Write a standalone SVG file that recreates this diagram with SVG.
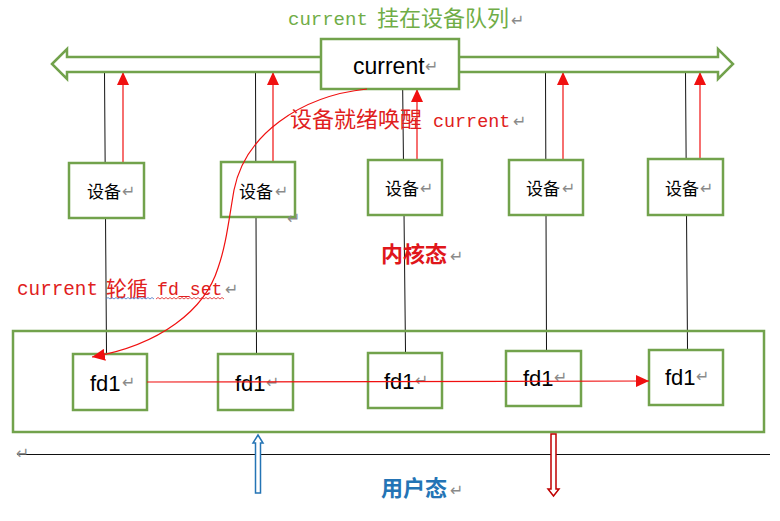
<svg xmlns="http://www.w3.org/2000/svg" width="780" height="521" viewBox="0 0 780 521">
<defs>
<style>
.box{fill:#fff;stroke:#72A24C;stroke-width:2.5}
.bl{stroke:#111;stroke-width:1;fill:none}
.rd{stroke:#F01010;stroke-width:1.2;fill:none}
.cjk{font-family:"Noto Sans CJK SC",sans-serif}
.mono{font-family:"Liberation Mono","Noto Sans CJK SC",monospace}
.sans{font-family:"Liberation Sans","Noto Sans CJK SC",sans-serif}
.pm{font-family:"DejaVu Sans",sans-serif;font-size:16px;fill:#8a8a8a}
</style>
<marker id="ah" viewBox="0 0 13 12" refX="13" refY="6" markerWidth="13" markerHeight="12" markerUnits="userSpaceOnUse" orient="auto"><path d="M0,0 L13,6 L0,12 z" fill="#F01010"/></marker>
</defs>
<rect width="780" height="521" fill="#fff"/>

<g id="connectors">
<path class="bl" d="M104.5 72 L106.5 354"/>
<path class="bl" d="M255.5 72 L256.5 354"/>
<path class="bl" d="M402.5 72 L405.5 352"/>
<path class="bl" d="M545.5 72 L546.5 351"/>
<path class="bl" d="M685.5 72 L687.5 350"/>
<path class="rd" d="M123 163 L123 72" marker-end="url(#ah)"/>
<path class="rd" d="M273 162 L273 72" marker-end="url(#ah)"/>
<path class="rd" d="M417 159 L417 89" marker-end="url(#ah)"/>
<path class="rd" d="M563 160 L563 72" marker-end="url(#ah)"/>
<path class="rd" d="M700 159 L700 72" marker-end="url(#ah)"/>
<path class="bl" d="M17 454.5 L770 454.5"/>
</g>

<g id="queue">
<polygon points="52,64 67,49 67,57 718,57 718,49 733,64 718,79 718,72 67,72 67,79" fill="#fff" stroke="#72A24C" stroke-width="2.5" stroke-linejoin="miter"/>
</g>

<g id="current">
<rect class="box" x="321" y="39" width="138" height="50"/>
<text class="sans" x="353" y="74" font-size="23" fill="#000">current</text>
<text class="pm" x="425" y="72">↵</text>
</g>

<g id="kernel-box">
<rect x="13" y="331" width="751" height="101" fill="none" stroke="#72A24C" stroke-width="2.5"/>
</g>

<g id="dev1"><rect class="box" x="69" y="163" width="75" height="55"/><text class="cjk" x="87" y="198" font-size="17">设备</text><text class="pm" x="122" y="197">↵</text></g>
<g id="dev2"><rect class="box" x="221" y="162" width="74" height="55"/><text class="cjk" x="239" y="198" font-size="17">设备</text><text class="pm" x="275" y="197">↵</text><text class="pm" x="287" y="224">↵</text></g>
<g id="dev3"><rect class="box" x="368" y="160" width="74" height="55"/><text class="cjk" x="385" y="195" font-size="17">设备</text><text class="pm" x="420" y="194">↵</text></g>
<g id="dev4"><rect class="box" x="509" y="160" width="74" height="55"/><text class="cjk" x="526" y="195" font-size="17">设备</text><text class="pm" x="562" y="194">↵</text></g>
<g id="dev5"><rect class="box" x="648" y="159" width="75" height="56"/><text class="cjk" x="665" y="195" font-size="17">设备</text><text class="pm" x="700" y="194">↵</text></g>

<g id="fd1a"><rect class="box" x="73" y="354" width="74" height="56"/><text class="sans" x="90" y="391" font-size="22">fd1</text><text class="pm" x="122" y="388">↵</text></g>
<g id="fd1b"><rect class="box" x="218" y="354" width="75" height="56"/><text class="sans" x="235" y="391" font-size="22">fd1</text><text class="pm" x="266" y="388">↵</text></g>
<g id="fd1c"><rect class="box" x="368" y="353" width="74" height="55"/><text class="sans" x="384" y="389" font-size="22">fd1</text><text class="pm" x="415" y="386">↵</text></g>
<g id="fd1d"><rect class="box" x="506" y="351" width="75" height="55"/><text class="sans" x="523" y="386" font-size="22">fd1</text><text class="pm" x="554" y="383">↵</text></g>
<g id="fd1e"><rect class="box" x="649" y="350" width="74" height="55"/><text class="sans" x="665" y="385" font-size="22">fd1</text><text class="pm" x="696" y="382">↵</text></g>

<g id="red-connectors">
<path class="rd" d="M147 382 L649 381" marker-end="url(#ah)"/>
<path class="rd" d="M367 89 C300 96,245 135,234 190 C228 225,226 245,218 268 C205 310,160 345,92 357" marker-end="url(#ah)"/>
</g>

<g id="updown">
<polygon points="258,435 263,443 260.5,443 260.5,493 255.5,493 255.5,443 253,443" fill="#fff" stroke="#2474B5" stroke-width="1.5"/>
<polygon points="551,434 556,434 556,489 559,489 553.5,496 548,489 551,489" fill="#fff" stroke="#C00000" stroke-width="1.5"/>
</g>

<g id="labels">
<text class="mono" x="288" y="25" font-size="19" fill="#70AD47">current</text>
<text class="cjk" x="377" y="26" font-size="22" fill="#70AD47">挂在设备队列</text>
<text class="pm" x="511" y="26">↵</text>
<text class="cjk" x="290" y="127" font-size="22" fill="#E02020">设备就绪唤醒</text>
<text class="mono" x="433" y="127" font-size="18.4" fill="#E02020">current</text>
<text class="pm" x="513" y="127">↵</text>
<text class="cjk" x="381" y="262" font-size="22" font-weight="bold" fill="#E0161B">内核态</text>
<text class="pm" x="450" y="262">↵</text>
<text class="mono" x="17" y="295" font-size="19.3" fill="#E02020">current</text>
<text class="cjk" x="106" y="296" font-size="21" fill="#E02020">轮循</text>
<text class="mono" x="157" y="295" font-size="18.2" fill="#E02020">fd_set</text>
<text class="pm" x="225" y="295">↵</text>
<path d="M106 299 l2 -1.5 l2 1.5 l2 -1.5 l2 1.5 l2 -1.5 l2 1.5 l2 -1.5 l2 1.5 l2 -1.5 l2 1.5 l2 -1.5 l2 1.5 l2 -1.5 l2 1.5 l2 -1.5 l2 1.5 l2 -1.5 l2 1.5 l2 -1.5 l2 1.5 l2 -1.5 l2 1.5 l2 -1.5 l2 1.5" fill="none" stroke="#4472C4" stroke-width="0.8"/>
<path d="M156 299 l2 -1.5 l2 1.5 l2 -1.5 l2 1.5 l2 -1.5 l2 1.5 l2 -1.5 l2 1.5 l2 -1.5 l2 1.5 l2 -1.5 l2 1.5 l2 -1.5 l2 1.5 l2 -1.5 l2 1.5 l2 -1.5 l2 1.5 l2 -1.5 l2 1.5 l2 -1.5 l2 1.5 l2 -1.5 l2 1.5 l2 -1.5 l2 1.5 l2 -1.5 l2 1.5 l2 -1.5 l2 1.5 l2 -1.5 l2 1.5 l2 -1.5 l2 1.5" fill="none" stroke="#E02020" stroke-width="0.8"/>
<text class="pm" x="16" y="459">↵</text>
<text class="cjk" x="381" y="496" font-size="22" font-weight="bold" fill="#2474B5">用户态</text>
<text class="pm" x="450" y="496">↵</text>
</g>
</svg>
